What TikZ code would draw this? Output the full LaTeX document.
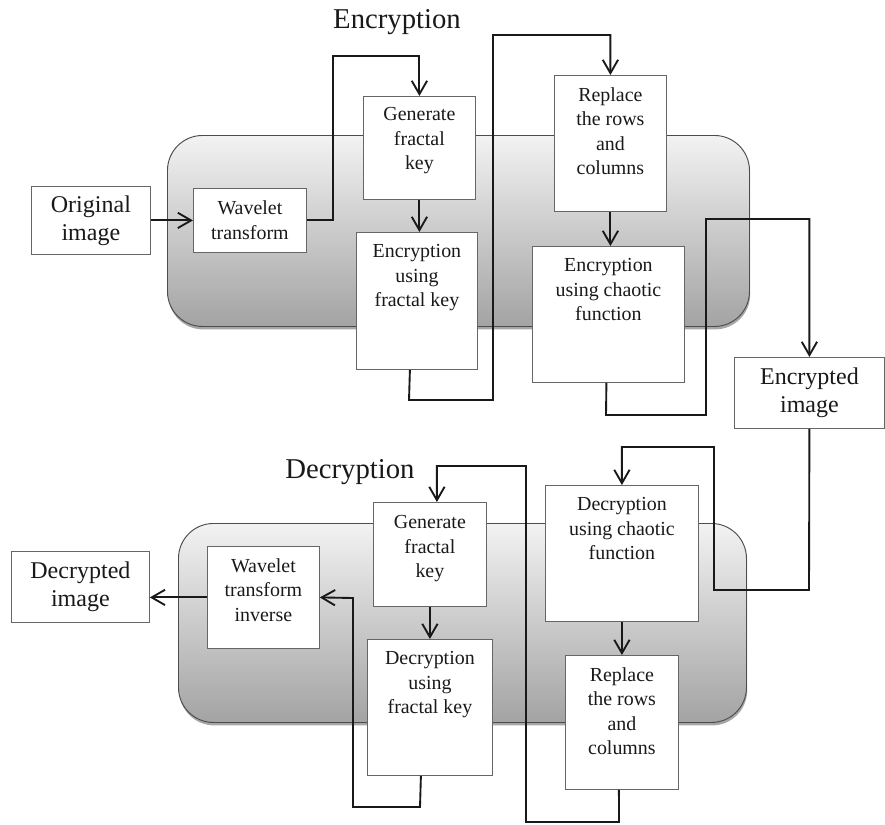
\documentclass[tikz,border=0pt]{standalone}
\usepackage{fontspec}
\setmainfont{Liberation Serif}
\usetikzlibrary{arrows.meta,shadows,calc}
\newcommand\bx[6][box]{\node[#1, anchor=north west, minimum width={(#5-#3)*0.3mm}, minimum height={(#6-#4)*0.3mm}] (#2) at (#3,#4) {};}
\begin{document}
\begin{tikzpicture}[x=0.3mm,y=-0.3mm,
 box/.style={draw=black!60, line width=0.7pt, fill=white, inner sep=0pt},
 panel/.style={draw=black!70, line width=0.8pt, rounded corners=10.5mm, inner sep=0pt,
   top color=black!5, bottom color=black!36,
   drop shadow={shadow xshift=0.6pt, shadow yshift=-2.5pt, opacity=0.35, fill=black}},
 txt/.style={align=center, inner sep=0pt, font=\fontsize{17}{21}\selectfont, text=black!90},
 big/.style={align=center, inner sep=0pt, font=\fontsize{20.5}{24}\selectfont, text=black!90},
 ttl/.style={inner sep=0pt, font=\fontsize{24.5}{29}\selectfont, text=black!90},
 wire/.style={line width=1.6pt, draw=black!90},
 conn/.style={wire, -{Straight Barb[length=4mm,width=4.6mm,line width=1.6pt]}}
]
\useasboundingbox (0,0) rectangle (885,824);

% panels
\bx[panel]{p1}{167}{135}{749}{326}
\bx[panel]{p2}{178}{523}{746}{722}

% titles
\node[ttl, anchor=base] (t1) at (397,28) {Encryption};
\node[ttl, anchor=base] (t2) at (350,478) {Decryption};

% encryption boxes
\bx{orig}{31}{186}{150}{254}
\bx{wav}{193}{188}{306}{252}
\bx{gen}{363}{96}{475}{199}
\bx{encf}{356}{232}{477}{369}
\bx{rep}{554}{75}{666}{211}
\bx{ench}{532}{246}{684}{382}
\bx{encimg}{734}{357}{884}{428}

% decryption boxes
\bx{decc}{545}{485}{698}{621}
\bx{rep2}{565}{655}{678}{789}
\bx{gen2}{373}{502}{486}{606}
\bx{decf}{367}{639}{492}{775}
\bx{wavinv}{207}{546}{319}{648}
\bx{decimg}{11}{551}{149}{622}

% texts
\node[big] (origT) at (orig) {Original\\image};
\node[txt] (wavT) at (wav) {Wavelet\\transform};
\node[txt, anchor=north] (genT) at ($(gen.north)+(0,11)$) {Generate\\fractal\\key};
\node[txt, anchor=north] (encfT) at ($(encf.north)+(0,12)$) {Encryption\\using\\fractal key};
\node[txt, anchor=north] (repT) at ($(rep.north)+(0,12)$) {Replace\\the rows\\and\\columns};
\node[txt, anchor=north] (enchT) at ($(ench.north)+(0,12)$) {Encryption\\using chaotic\\function};
\node[big] (encimgT) at (encimg) {Encrypted\\image};

\node[txt, anchor=north] (deccT) at ($(decc.north)+(0,12)$) {Decryption\\using chaotic\\function};
\node[txt, anchor=north] (rep2T) at ($(rep2.north)+(0,12)$) {Replace\\the rows\\and\\columns};
\node[txt, anchor=north] (gen2T) at ($(gen2.north)+(0,13)$) {Generate\\fractal\\key};
\node[txt, anchor=north] (decfT) at ($(decf.north)+(0,12)$) {Decryption\\using\\fractal key};
\node[txt, anchor=north] (wavinvT) at ($(wavinv.north)+(0,12)$) {Wavelet\\transform\\inverse};
\node[big] (decimgT) at (decimg) {Decrypted\\image};

% encryption connectors
\draw[conn] (orig.east) -- (wav.west);
\draw[conn] (wav.east) -| (333,56) -| (gen.north);
\draw[conn] (gen.south) -- (gen.south |- encf.north);
\draw[conn] ($(encf.south)+(-7,0)$) -- (409,400) -| (493,35) -| (rep.north);
\draw[conn] (rep.south) -- (rep.south |- ench.north);
\draw[conn] ($(ench.south)+(-2,0)$) -- (606,415) -| (706,219) -| (encimg.north);

% decryption connectors
\draw[conn] (encimg.south) -- (809,590) -| (714,447) -| (decc.north);
\draw[conn] (decc.south) -- (decc.south |- rep2.north);
\draw[conn] ($(rep2.south)+(-3,0)$) -- (619,822) -| (526,466) -| ($(gen2.north)+(7,0)$);
\draw[conn] (gen2.south) -- (gen2.south |- decf.north);
\draw[conn] ($(decf.south)+(-9,0)$) -- (420,807) -| (353,598) -- (wavinv.east);
\draw[conn] (wavinv.west) -- (wavinv.west -| decimg.east);
\end{tikzpicture}
\end{document}
